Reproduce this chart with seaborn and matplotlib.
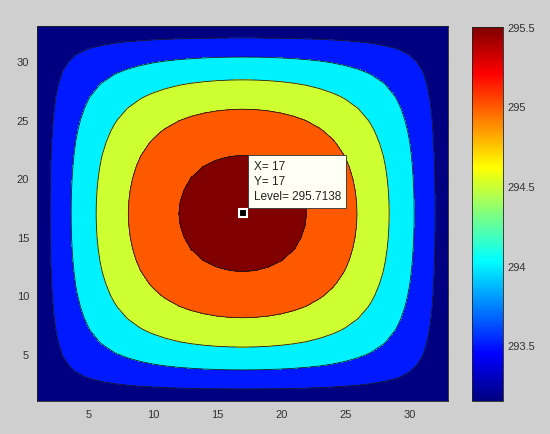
import numpy as np
import matplotlib
matplotlib.use("Agg")
import matplotlib.pyplot as plt
import seaborn as sns
from matplotlib.colors import LinearSegmentedColormap, Normalize
from matplotlib.cm import ScalarMappable

# ---- data -------------------------------------------------------------
grid_n = 33                      # nodes per side (1..33)
boundary_temp = 293.15           # fixed wall temperature [K]
peak_temp = 295.7138             # temperature at the centre node
contour_levels = [293.5, 294.0, 294.5, 295.0, 295.5]
color_limits = [293.15, 295.5]
cbar_ticks = [293.5, 294.0, 294.5, 295.0, 295.5]
cbar_tick_labels = ["293.5", "294", "294.5", "295", "295.5"]
axis_ticks = [5, 10, 15, 20, 25, 30]
tip_point = (17, 17)
tip_lines = ["X= 17", "Y= 17", "Level= 295.7138"]

# ---- steady heat conduction with uniform source, fixed-temperature walls
m = grid_n - 2
lap = -2 * np.eye(m) + np.eye(m, k=1) + np.eye(m, k=-1)
lam, vec = np.linalg.eigh(lap)
rhs = -np.ones((m, m))
u = vec @ ((vec.T @ rhs @ vec) / (lam[:, None] + lam[None, :])) @ vec.T
shape = np.zeros((grid_n, grid_n))
shape[1:-1, 1:-1] = u
field = boundary_temp + (peak_temp - boundary_temp) * shape / shape.max()

coords = np.arange(1, grid_n + 1)
X, Y = np.meshgrid(coords, coords)

# ---- style --------------------------------------------------------------
sns.set_theme(style="ticks")
plt.rcParams["font.family"] = ["Liberation Sans", "DejaVu Sans"]
bg = "#cfcfcf"

jet = LinearSegmentedColormap.from_list(
    "matlab_jet",
    [(0.0, (0, 0, 0.5)), (0.125, (0, 0, 1)), (0.375, (0, 1, 1)),
     (0.625, (1, 1, 0)), (0.875, (1, 0, 0)), (1.0, (0.5, 0, 0))],
    N=256,
)
norm = Normalize(vmin=color_limits[0], vmax=color_limits[1])

fig = plt.figure(figsize=(5.5, 4.35), dpi=100, facecolor=bg)
ax = fig.add_axes([0.068, 0.0766, 0.7464, 0.8607])

fill_bounds = [field.min()] + contour_levels + [field.max() + 1e-6]
fill_colors = [jet(norm(v)) for v in fill_bounds[:-1]]
ax.contourf(X, Y, field, levels=fill_bounds, colors=fill_colors)
ax.contour(X, Y, field, levels=contour_levels, colors="k", linewidths=0.6)

ax.set_xlim(1, grid_n)
ax.set_ylim(1, grid_n)
ax.set_xticks(axis_ticks)
ax.set_yticks(axis_ticks)
ax.tick_params(direction="in", length=3, width=0.6, labelsize=8,
               labelcolor="#333333", top=True, right=True, pad=6)
for sp in ax.spines.values():
    sp.set_linewidth(0.6)
    sp.set_color("#222222")

# data tip
ax.plot(*tip_point, marker="s", ms=6, mfc="black", mec="white", mew=1.5,
        zorder=5)
ax.annotate("\n".join(tip_lines), xy=tip_point, xytext=(11, 11),
            textcoords="offset pixels", ha="left", va="bottom",
            fontsize=8.5, linespacing=1.35, color="#222222", zorder=6,
            bbox=dict(boxstyle="square,pad=0.45", fc="#fffff4",
                      ec="#333333", lw=0.6))

# colour bar
cax = fig.add_axes([0.858, 0.0759, 0.0564, 0.86])
cb = fig.colorbar(ScalarMappable(norm=norm, cmap=jet), cax=cax)
cb.set_ticks(cbar_ticks)
cb.set_ticklabels(cbar_tick_labels)
cax.tick_params(direction="in", length=3, width=0.6, labelsize=8,
                labelcolor="#333333", left=True, right=True, pad=3)
cb.outline.set_linewidth(0.6)
cb.outline.set_edgecolor("#222222")

fig.savefig("out.png", dpi=100, facecolor=bg)
